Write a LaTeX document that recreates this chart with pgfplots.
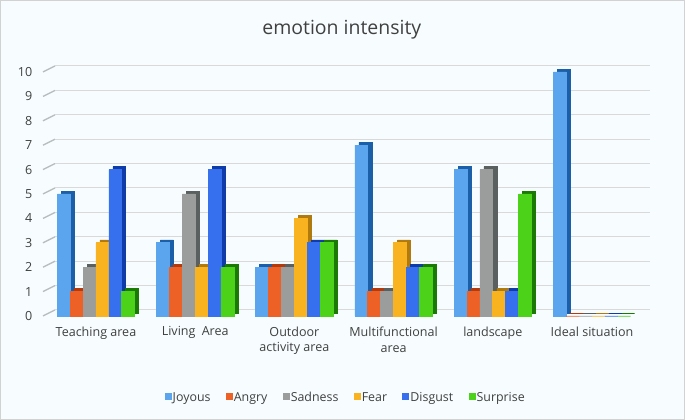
\documentclass[border=0pt]{standalone}
\usepackage{pgfplots}
\pgfplotsset{compat=1.18}
\usepackage{fontspec}
\setmainfont{Open Sans}
\definecolor{cJ}{HTML}{5AA5EE}\definecolor{sJ}{HTML}{1B5FA8}
\definecolor{cA}{HTML}{EE6126}\definecolor{sA}{HTML}{B23A0C}
\definecolor{cS}{HTML}{9B9C9C}\definecolor{sS}{HTML}{5A5F60}
\definecolor{cF}{HTML}{F9B320}\definecolor{sF}{HTML}{B17A0E}
\definecolor{cD}{HTML}{3670EE}\definecolor{sD}{HTML}{0F3CA8}
\definecolor{cU}{HTML}{4CD218}\definecolor{sU}{HTML}{1A7A04}
\definecolor{txt}{HTML}{404040}
\definecolor{gridc}{HTML}{D9D9D9}
\definecolor{slantc}{HTML}{B8BEBE}
\begin{document}
\begin{tikzpicture}[x=1pt,y=1pt]
\useasboundingbox (0,0) rectangle (513.75,315);
\fill[white!97!cyan] (0,0) rectangle (513.75,315);
\draw[gray!35, line width=0.75pt] (0.4,0.4) rectangle (513.35,314.6);
\foreach \i in {0,...,10}{\draw[slantc, line width=1pt] (32.25pt,78pt+18.3pt*\i) -- ++(9pt,4.5pt);}
\begin{axis}[
  at={(41.25pt,78pt)}, anchor=south west,
  scale only axis, width=446.3pt, height=183pt,
  xmin=-0.413, xmax=5.585, ymin=0, ymax=10,
  ytick={0,...,10}, xtick={0,...,5},
  xticklabels={Teaching area, Living\enspace Area, {Outdoor\\activity area}, {Multifunctional\\area}, landscape, Ideal situation},
  xticklabel style={align=center, font=\fontsize{9.4}{11.8}\selectfont, text=txt, yshift=-4.5pt},
  yticklabel style={font=\fontsize{9.4}{11.8}\selectfont, text=txt, xshift=-13.5pt},
  /pgf/number format/assume math mode=true,
  major tick length=0pt,
  axis line style={draw=none},
  ymajorgrids, grid style={gridc, line width=0.75pt, yshift=4.5pt},
  clip=false,
  title={emotion intensity},
  title style={at={(0.482,1.14)}, anchor=center, font=\fontsize{14.6}{16}\selectfont, text=txt},
  ybar, bar width=0.13,
  legend columns=-1,
  legend style={draw=none, fill=none, at={(0.488,-0.337)}, anchor=center,
    font=\fontsize{9.3}{11}\selectfont, text=txt,
    /tikz/every even column/.append style={column sep=10.5pt},
    nodes={inner sep=1pt}},
  legend image code/.code={\fill[#1] (0pt,-0.5pt) rectangle (4.5pt,4pt);},
]
% side/top shading
\addplot[forget plot, fill=sJ, draw=sJ, line width=0.4pt, bar shift=-0.285, yshift=2.2pt] coordinates {(0,5)(1,3)(2,2)(3,7)(4,6)(5,10)};
\addplot[forget plot, fill=sA, draw=sA, line width=0.4pt, bar shift=-0.155, yshift=2.2pt] coordinates {(0,1)(1,2)(2,2)(3,1)(4,1)(5,0)};
\addplot[forget plot, fill=sS, draw=sS, line width=0.4pt, bar shift=-0.025, yshift=2.2pt] coordinates {(0,2)(1,5)(2,2)(3,1)(4,6)(5,0)};
\addplot[forget plot, fill=sF, draw=sF, line width=0.4pt, bar shift=0.105, yshift=2.2pt] coordinates {(0,3)(1,2)(2,4)(3,3)(4,1)(5,0)};
\addplot[forget plot, fill=sD, draw=sD, line width=0.4pt, bar shift=0.235, yshift=2.2pt] coordinates {(0,6)(1,6)(2,3)(3,2)(4,1)(5,0)};
\addplot[forget plot, fill=sU, draw=sU, line width=0.4pt, bar shift=0.365, yshift=2.2pt] coordinates {(0,1)(1,2)(2,3)(3,2)(4,5)(5,0)};
% fronts
\addplot[fill=cJ, draw=cJ, line width=0.5pt, bar shift=-0.325] coordinates {(0,5)(1,3)(2,2)(3,7)(4,6)(5,10)};
\addplot[fill=cA, draw=cA, line width=0.5pt, bar shift=-0.195] coordinates {(0,1)(1,2)(2,2)(3,1)(4,1)(5,0)};
\addplot[fill=cS, draw=cS, line width=0.5pt, bar shift=-0.065] coordinates {(0,2)(1,5)(2,2)(3,1)(4,6)(5,0)};
\addplot[fill=cF, draw=cF, line width=0.5pt, bar shift=0.065] coordinates {(0,3)(1,2)(2,4)(3,3)(4,1)(5,0)};
\addplot[fill=cD, draw=cD, line width=0.5pt, bar shift=0.195] coordinates {(0,6)(1,6)(2,3)(3,2)(4,1)(5,0)};
\addplot[fill=cU, draw=cU, line width=0.5pt, bar shift=0.325] coordinates {(0,1)(1,2)(2,3)(3,2)(4,5)(5,0)};
\legend{Joyous, Angry, Sadness, Fear, Disgust, Surprise}
\end{axis}
\end{tikzpicture}
\end{document}
